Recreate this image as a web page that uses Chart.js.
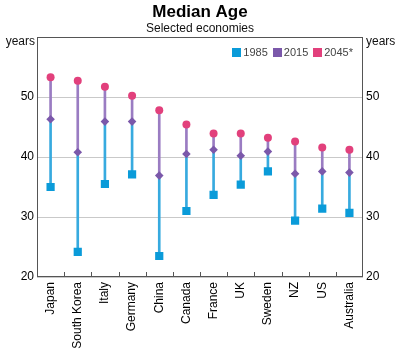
<!DOCTYPE html>
<html>
<head>
<meta charset="utf-8">
<script src="https://cdn.jsdelivr.net/npm/chart.js@4"></script>
<style>
  html, body { margin: 0; padding: 0; background: #fff; }
  #wrap { width: 400px; height: 352px; position: relative; }
</style>
</head>
<body>
<div id="wrap"><canvas id="c" width="400" height="352"></canvas></div>
<script>
const categories = ["Japan", "South Korea", "Italy", "Germany", "China", "Canada", "France", "UK", "Sweden", "NZ", "US", "Australia"];
const age1985 = [35.0, 24.2, 35.5, 37.1, 23.5, 31.0, 33.7, 35.4, 37.6, 29.4, 31.4, 30.7];
const age2015 = [46.3, 40.8, 45.9, 45.9, 36.9, 40.5, 41.2, 40.2, 40.9, 37.2, 37.6, 37.4];
const age2045 = [53.3, 52.7, 51.7, 50.2, 47.8, 45.4, 43.9, 43.9, 43.2, 42.6, 41.6, 41.2];
const seriesNames = ["1985", "2015", "2045*"];
const yTicks = [20, 30, 40, 50];
const yMin = 20, yMax = 60;

const C85 = '#0a9bd9', C15 = '#7b58aa', C45 = '#e2407c';
const L85 = '#37aadf', L15 = '#9a7cc2';
const FONT = "'Liberation Sans', Arial, sans-serif";

const seg1 = age1985.map((v, i) => [v, age2015[i]]);
const seg2 = age2015.map((v, i) => [v, age2045[i]]);

const decor = {
  id: 'decor',
  afterDraw(chart) {
    const ctx = chart.ctx, a = chart.chartArea, xs = chart.scales.x;
    ctx.save();
    // frame
    ctx.strokeStyle = '#555';
    ctx.lineWidth = 1;
    ctx.strokeRect(Math.round(a.left) + 0.5, Math.round(a.top) + 0.5, Math.round(a.right - a.left) - 1, Math.round(a.bottom - a.top) - 1);
    // inward ticks at category boundaries
    for (let i = 1; i < categories.length; i++) {
      const x = Math.round((xs.getPixelForValue(i - 1) + xs.getPixelForValue(i)) / 2) + 0.5;
      ctx.beginPath();
      ctx.moveTo(x, a.bottom);
      ctx.lineTo(x, a.bottom - 5);
      ctx.stroke();
    }
    // titles
    ctx.fillStyle = '#000';
    ctx.textAlign = 'center';
    ctx.textBaseline = 'alphabetic';
    ctx.font = 'bold 17px ' + FONT;
    ctx.fillText('Median Age', 200, 17);
    ctx.font = '12px ' + FONT;
    ctx.fillStyle = '#111';
    ctx.fillText('Selected economies', 200, 32);
    // units
    ctx.font = '12px ' + FONT;
    ctx.textAlign = 'right';
    ctx.fillText('years', a.left - 2, 45);
    ctx.textAlign = 'left';
    ctx.fillText('years', a.right + 3, 45);
    // legend (top right, inside plot)
    ctx.font = '11px ' + FONT;
    const legendSets = chart.data.datasets.filter(d => seriesNames.includes(d.label));
    const box = 9, gapBox = 2, gapItem = 5;
    let total = 0;
    legendSets.forEach((d, i) => { total += box + gapBox + ctx.measureText(d.label).width + (i ? gapItem : 0); });
    let x = a.right - 10 - total;
    const yc = a.top + 15;
    legendSets.forEach((d) => {
      ctx.fillStyle = d.backgroundColor;
      ctx.fillRect(Math.round(x), Math.round(yc - box / 2), box, box);
      x += box + gapBox;
      ctx.fillStyle = '#444';
      ctx.textAlign = 'left';
      ctx.textBaseline = 'middle';
      ctx.fillText(d.label, x, yc + 0.5);
      x += ctx.measureText(d.label).width + gapItem;
    });
    ctx.restore();
  }
};

new Chart(document.getElementById('c'), {
  type: 'bar',
  data: {
    labels: categories,
    datasets: [
      { type: 'bar', label: 'seg1', data: seg1, backgroundColor: L85, barThickness: 2, grouped: false, order: 5 },
      { type: 'bar', label: 'seg2', data: seg2, backgroundColor: L15, barThickness: 2, grouped: false, order: 5 },
      { type: 'line', label: seriesNames[0], data: age1985, showLine: false, pointStyle: 'rect', pointRadius: 5.8, pointHoverRadius: 5.8,
        backgroundColor: C85, borderColor: C85, borderWidth: 0, pointBorderWidth: 0, order: 1 },
      { type: 'line', label: seriesNames[1], data: age2015, showLine: false, pointStyle: 'rectRot', pointRadius: 4.3, pointHoverRadius: 4.3,
        backgroundColor: C15, borderColor: C15, borderWidth: 0, pointBorderWidth: 0, order: 1 },
      { type: 'line', label: seriesNames[2], data: age2045, showLine: false, pointStyle: 'circle', pointRadius: 4, pointHoverRadius: 4,
        backgroundColor: C45, borderColor: C45, borderWidth: 0, pointBorderWidth: 0, order: 1 }
    ]
  },
  options: {
    responsive: false,
    animation: false,
    events: [],
    layout: { padding: { top: 37, left: 0, right: 0, bottom: 0 } },
    plugins: {
      title: { display: false },
      tooltip: { enabled: false },
      legend: { display: false }
    },
    scales: {
      x: {
        offset: true,
        grid: { display: false, drawTicks: false },
        border: { display: false },
        ticks: { minRotation: 90, maxRotation: 90, autoSkip: false, padding: 5, color: '#000', font: { family: FONT, size: 12 } },
        afterFit(s) { s.height = 75; }
      },
      y: {
        position: 'left',
        min: yMin, max: yMax,
        afterBuildTicks(s) { s.ticks = yTicks.map(v => ({ value: v })); },
        grid: { color: '#c9c9c9', lineWidth: 1, drawTicks: false },
        border: { display: false },
        ticks: { padding: 3, color: '#000', font: { family: FONT, size: 12 } },
        afterFit(s) { s.width = 37; }
      },
      y2: {
        position: 'right',
        min: yMin, max: yMax,
        afterBuildTicks(s) { s.ticks = yTicks.map(v => ({ value: v })); },
        grid: { display: false, drawTicks: false },
        border: { display: false },
        ticks: { padding: 3, color: '#000', font: { family: FONT, size: 12 } },
        afterFit(s) { s.width = 37; }
      }
    }
  },
  plugins: [decor]
});
</script>
</body>
</html>
